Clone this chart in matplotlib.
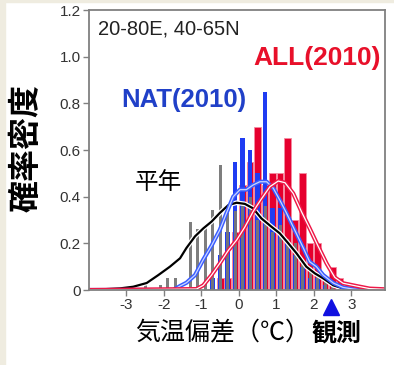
import matplotlib
matplotlib.use('Agg')
import matplotlib.pyplot as plt
from matplotlib.patches import Rectangle

plt.rcParams['font.family'] = ['Liberation Sans', 'Noto Sans CJK JP', 'DejaVu Sans']

## histogram bins (centres, bin width 0.2)
clim_x = [-2.5, -2.3, -2.1, -1.9, -1.7, -1.5, -1.3, -1.1, -0.9, -0.7, -0.5, -0.3, -0.1,
          0.1, 0.3, 0.5, 0.7, 0.9, 1.1, 1.3, 1.5, 1.7, 1.9, 2.1, 2.3, 2.5]
clim_y = [0.035, 0.0, 0.02, 0.05, 0.05, 0.01, 0.29, 0.26, 0.27, 0.345, 0.535, 0.33, 0.34,
          0.36, 0.40, 0.30, 0.36, 0.25, 0.28, 0.22, 0.20, 0.12, 0.10, 0.07, 0.05, 0.02]
nat_x = [-0.7, -0.5, -0.3, -0.1, 0.1, 0.3, 0.5, 0.7, 0.9, 1.1, 1.3, 1.5, 1.7, 1.9, 2.1, 2.3]
nat_y = [0.05, 0.15, 0.25, 0.55, 0.65, 0.60, 0.50, 0.85, 0.35, 0.35, 0.20, 0.15, 0.10, 0.05, 0.05, 0.02]
all_x = [-0.5, -0.3, -0.1, 0.1, 0.3, 0.5, 0.7, 0.9, 1.1, 1.3, 1.5, 1.7, 1.9, 2.1, 2.3, 2.5, 2.7]
all_y = [0.05, 0.05, 0.25, 0.45, 0.55, 0.70, 0.45, 0.50, 0.50, 0.65, 0.30, 0.50, 0.20, 0.20, 0.05, 0.10, 0.05]

## smoothed density curves
clim_cx = [-4.0, -3.17, -2.82, -2.46, -2.15, -1.84, -1.57, -1.4, -1.17, -0.95, -0.73, -0.51,
           -0.28, -0.06, 0.16, 0.38, 0.6, 0.87, 1.09, 1.32, 1.54, 1.8, 2.03, 2.25, 2.52, 2.78, 3.0, 3.9]
clim_cy = [0.0, 0.007, 0.014, 0.03, 0.064, 0.1, 0.136, 0.18, 0.23, 0.264, 0.293, 0.33,
           0.364, 0.374, 0.369, 0.35, 0.307, 0.271, 0.243, 0.2, 0.157, 0.1, 0.071, 0.05, 0.02, 0.007, 0.0, 0.0]
nat_cx = [-4.0, -1.75, -1.57, -1.4, -1.17, -0.95, -0.73, -0.51, -0.33, -0.15, 0.03, 0.2, 0.38,
          0.56, 0.74, 0.92, 1.09, 1.27, 1.49, 1.72, 1.89, 2.07, 2.25, 2.52, 2.78, 3.05, 3.3, 3.9]
nat_cy = [0.0, 0.0, 0.017, 0.031, 0.064, 0.13, 0.19, 0.257, 0.33, 0.40, 0.43, 0.43, 0.45,
          0.464, 0.464, 0.436, 0.386, 0.33, 0.257, 0.18, 0.121, 0.1, 0.064, 0.03, 0.011, 0.004, 0.0, 0.0]
all_cx = [-4.0, -1.13, -0.95, -0.73, -0.51, -0.28, -0.06, 0.16, 0.38, 0.6, 0.83, 1.05, 1.23,
          1.45, 1.67, 1.89, 2.12, 2.34, 2.56, 2.78, 3.14, 3.49, 3.9]
all_cy = [0.0, 0.004, 0.02, 0.064, 0.114, 0.17, 0.214, 0.27, 0.336, 0.39, 0.443, 0.467, 0.46,
          0.414, 0.336, 0.264, 0.186, 0.114, 0.054, 0.029, 0.017, 0.006, 0.003]

obs_2010 = 2.47
xticks = [-3, -2, -1, 0, 1, 2, 3]
yticks = [0, 0.2, 0.4, 0.6, 0.8, 1.0, 1.2]
ytick_labels = ['0', '0.2', '0.4', '0.6', '0.8', '1.0', '1.2']

RED = '#e6002e'
BLUE = '#1f3cf2'
GRAY = '#777777'

fig = plt.figure(figsize=(3.94, 3.65), dpi=100)
# beige frame strips on left/top edge
fig.patches.append(Rectangle((0, 0), 5 / 394, 1, transform=fig.transFigure, color='#efece0', zorder=0))
fig.patches.append(Rectangle((0, 1 - 2 / 365), 1, 2 / 365, transform=fig.transFigure, color='#efece0', zorder=0))

ax = fig.add_axes([89 / 394, 1 - 290 / 365, 296 / 394, 280 / 365])

ax.bar(all_x, all_y, width=0.18, color=RED, edgecolor='#f58aa0', linewidth=0.6, zorder=1)
ax.bar(nat_x, nat_y, width=0.12, color=BLUE, linewidth=0, zorder=2)
ax.bar(clim_x, clim_y, width=0.08, color=GRAY, linewidth=0, alpha=0.95, zorder=3)

# curves: thick coloured line with a light core
ax.plot(clim_cx, clim_cy, color='white', lw=3.4, zorder=4, solid_capstyle='round')
ax.plot(clim_cx, clim_cy, color='black', lw=1.6, zorder=5)
ax.plot(nat_cx, nat_cy, color='#3a5cff', lw=3.0, zorder=6)
ax.plot(nat_cx, nat_cy, color='#c9d6ff', lw=0.9, zorder=7)
ax.plot(all_cx, all_cy, color='#ee1848', lw=3.0, zorder=8)
ax.plot(all_cx, all_cy, color='white', lw=0.9, zorder=9)

ax.set_xlim(-4.0, 3.9)
ax.set_ylim(0, 1.2)
ax.set_xticks(xticks)
ax.set_xticklabels([str(t) for t in xticks])
ax.set_yticks(yticks)
ax.set_yticklabels(ytick_labels)
ax.tick_params(axis='both', direction='out', length=4, width=1, colors='#808080',
               labelcolor='#333333', labelsize=11, pad=2)
for sp in ax.spines.values():
    sp.set_color('#808080')
    sp.set_linewidth(1.3)
    sp.set_zorder(10)

ax.text(0.03, 0.965, '20-80E, 40-65N', transform=ax.transAxes, ha='left', va='top',
        fontsize=14.5, color='#222222')
ax.text(0.555, 0.83, 'ALL(2010)', transform=ax.transAxes, ha='left', va='center',
        fontsize=19, fontweight='bold', color='#e8102a', zorder=11)
ax.text(0.11, 0.68, 'NAT(2010)', transform=ax.transAxes, ha='left', va='center',
        fontsize=18.5, fontweight='bold', color='#2040c8', zorder=11)
ax.text(0.155, 0.385, '平年', transform=ax.transAxes, ha='left', va='center',
        fontsize=17, color='black', family=['Noto Sans CJK JP'], zorder=11)

# observed 2010 anomaly
ax.plot([obs_2010], [-0.061], transform=ax.get_xaxis_transform(), marker='^',
        markersize=12, color='#1010e0', clip_on=False, zorder=12)

fig.text(27 / 394, 1 - 148 / 365, '確率密度', rotation=90, ha='center', va='center',
         fontsize=23, fontweight='bold', family=['Noto Sans CJK JP'])
fig.text(135 / 394, 1 - 333 / 365, '気温偏差（℃）', ha='left', va='center',
         fontsize=18, family=['Noto Sans CJK JP'])
fig.text(312 / 394, 1 - 333 / 365, '観測', ha='left', va='center',
         fontsize=18, fontweight='bold', family=['Noto Sans CJK JP'])

fig.savefig('out.png', dpi=100)
